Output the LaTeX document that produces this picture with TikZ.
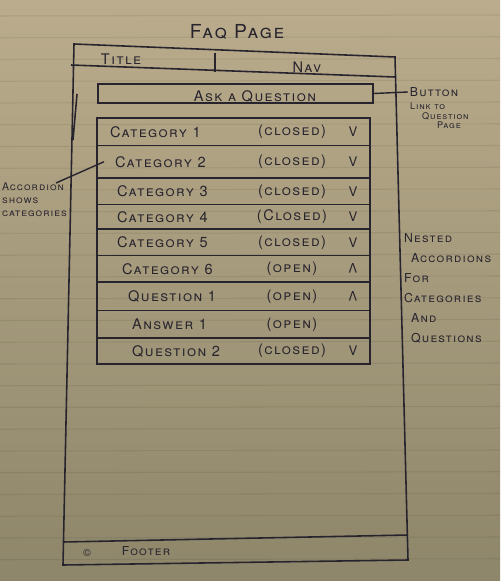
\documentclass[tikz,border=0pt]{standalone}
\usepackage{fontspec}
\newfontfamily\hand[LetterSpace=10]{TeX Gyre Heros}
\usetikzlibrary{positioning}
\definecolor{ink}{RGB}{40,36,46}
\definecolor{papertop}{RGB}{186,172,140}
\definecolor{paperbot}{RGB}{142,134,106}
\newcommand\chevdown{V}
\newcommand\chevup{\rotatebox[origin=c]{180}{V}}
\tikzset{
  sketch/.style={draw=ink, line width=0.9pt},
  rowbox/.style={sketch, minimum width=5.46cm, inner sep=0pt},
  hand/.style={text=ink, inner sep=1pt, font=\hand\scshape\fontsize{8.3}{10}\selectfont},
  note/.style={hand, font=\hand\scshape\fontsize{7}{11.4}\selectfont, align=left},
}
\begin{document}
\begin{tikzpicture}[x=0.02cm, y=-0.02cm]
  \useasboundingbox (0,0) rectangle (500,581);
  \clip (0,0) rectangle (500,581);
  \shade[top color=papertop, bottom color=paperbot] (0,0) rectangle (500,581);
  % ruled paper
  \foreach \k in {0,...,25}
    \draw[black, opacity=0.07, line width=0.6pt] (0,{16+21.75*\k}) -- (500,{15+21.75*\k});

  % page frame, header and footer
  \draw[sketch] (74,44) -- (395,57) -- (408,560) -- (63,565) -- cycle;
  \draw[sketch] (77,94) -- (73,140);
  \draw[sketch] (71,65) -- (395,77);
  \draw[sketch] (215,53) -- (215,72);
  \draw[sketch] (63,542) -- (408,535);

  \node[hand, font=\hand\scshape\fontsize{11}{13}\selectfont] (pagetitle) at (237,32) {Faq Page};
  \node[hand] (titlecell) at (121,59) {Title};
  \node[hand] (navcell) at (307,67) {Nav};

  % ask button
  \node[rowbox, minimum width=5.5cm, minimum height=0.38cm] (askbtn) at (235.5,93.5) {};
  \node[hand] (asklabel) at (255,96) {Ask a Question};
  \node[note] (btnnote) at (434,92) {Button};
  \node[note, anchor=north west, font=\hand\scshape\fontsize{5.2}{5.4}\selectfont] (linknote) at (408,101)
    {Link to\\\hspace*{0.24cm}Question\\\hspace*{0.54cm}Page};
  \draw[sketch, line width=0.8pt] (askbtn.east) -- (btnnote.west);

  % accordion rows
  \foreach \r/\yt/\yb/\lx/\lab/\st/\ch in {
      1/118/145.5/108/Category 1/{(closed)}/\chevdown,
      2/145.5/178/113/Category 2/{(closed)}/\chevdown,
      3/178/204.5/115/Category 3/{(closed)}/\chevdown,
      4/204.5/229/115/Category 4/{(Closed)}/\chevdown,
      5/229/255.5/115/Category 5/{(closed)}/\chevdown,
      6/255.5/282/120/Category 6/{(open)}/\chevup,
      7/282/310.5/126/Question 1/{(open)}/\chevup,
      8/310.5/338/130/Answer 1/{(open)}/{},
      9/338/364/130/Question 2/{(closed)}/\chevdown}
  {
    \pgfmathsetmacro\ym{(\yt+\yb)/2}
    \pgfmathsetmacro\rowh{(\yb-\yt)*0.02}
    \node[rowbox, minimum height=\rowh cm] (row\r) at (233.5,\ym) {};
    \node[hand, anchor=west] (item\r) at (\lx,\ym) {\lab};
    \node[hand] (state\r) at (292,\ym) {\st};
    \node[hand, font=\hand\fontsize{7.5}{9}\selectfont] (chev\r) at (353,\ym) {\ch};
  }

  % side notes
  \node[note, anchor=north west, font=\hand\scshape\fontsize{6}{7.4}\selectfont] (accnote) at (0,181)
    {Accordion\\shows\\categories};
  \coordinate (accend) at (56,183);
  \draw[sketch, line width=0.8pt] (accend) -- ([xshift=-0.18cm]item2.west);
  \node[note, anchor=north west] (nestnote) at (402,231)
    {Nested\\\hspace*{0.14cm}Accordions\\For\\Categories\\\hspace*{0.14cm}And\\\hspace*{0.14cm}Questions};

  \node[hand, font=\hand\fontsize{6}{7}\selectfont] (copyr) at (87,553) {©};
  \node[hand, font=\hand\scshape\fontsize{7}{8}\selectfont] (footlabel) at (146,551) {Footer};
\end{tikzpicture}
\end{document}
